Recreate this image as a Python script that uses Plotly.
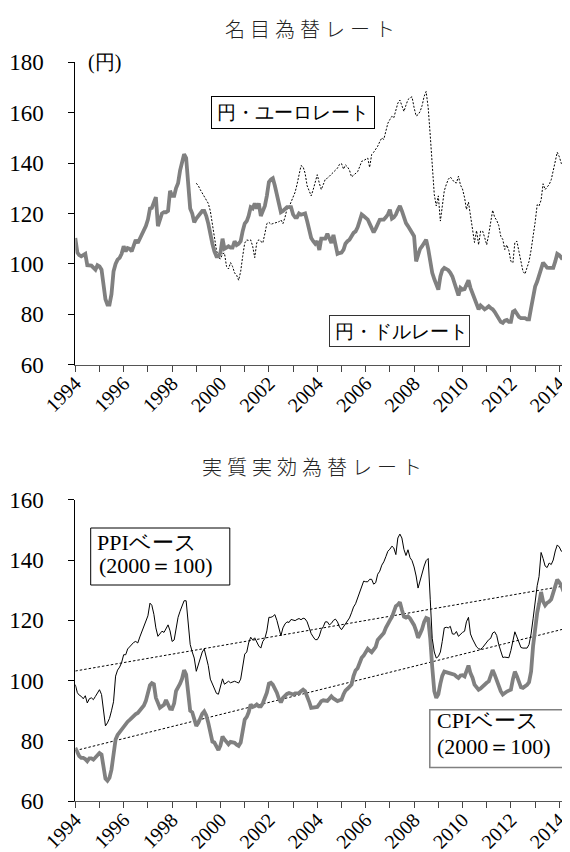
import plotly.graph_objects as go
import pandas as pd

# ---------------- data ----------------
months = pd.date_range("1994-01-01", "2014-10-01", freq="MS")
euro_months = pd.date_range("1999-01-01", "2014-10-01", freq="MS")

usd_jpy = [
    110.3, 104.5, 103.5, 103, 103.5, 104, 99.5, 99.3, 99.3, 98.5, 97.7, 99.5,      # 1994
    99, 97.7, 92, 86, 83.8, 83.8, 88, 97, 100, 101.7, 102.4, 104,                   # 1995
    107, 105, 106.3, 106, 105, 108, 109.5, 108.3, 110, 111, 113.5, 115,             # 1996
    117.6, 122, 122.2, 124, 126.5, 115, 117, 120, 120.5, 120.5, 121, 129,           # 1997
    127, 127, 130, 132, 137, 140.5, 143.5, 142, 133, 122, 120, 116.5,               # 1998
    118, 119, 120.5, 121, 121, 119, 116, 111.5, 108, 105, 103, 103,                 # 1999
    104.5, 110, 106, 106.5, 107, 106.5, 106.5, 109, 107.5, 108, 109, 113,           # 2000
    116, 117, 119, 122.5, 122, 124, 122, 124, 119, 121, 123, 127,                   # 2001
    132.5, 133.5, 134, 131, 127, 123, 120.5, 121, 122, 122.5, 122.5, 122.5,         # 2002
    119.6, 118.5, 118.5, 120, 119.5, 119.6, 120, 117, 113, 110.3, 109, 108,         # 2003
    109, 105.5, 110, 110, 110, 112, 110, 108.3, 111.5, 108, 104, 104.3,             # 2004
    104.5, 105.7, 108, 109, 109.6, 111, 112.3, 112.9, 114.5, 117, 119.6, 119,       # 2005
    118.2, 117.6, 116, 114.3, 112.5, 114, 116, 117.5, 117.6, 117.6, 118.5, 119.6,   # 2006
    121.5, 118, 118.5, 119.6, 121.5, 123, 121, 118, 116.2, 115, 113.5, 112.5,       # 2007
    111, 101, 103, 106, 107, 108.5, 109.6, 106, 101, 96.5, 94, 92,                  # 2008
    89.8, 95, 97.5, 98.4, 98, 97.5, 96.5, 95, 92.5, 90, 87.5, 90.5,                 # 2009
    89.8, 90, 91.8, 93.5, 90.5, 88.5, 86, 84.5, 82, 83.5, 82.5, 82,                 # 2010
    82.5, 83.2, 82.5, 82, 81, 79.5, 78, 77, 76.6, 77.5, 77.8, 77,                   # 2011
    77, 81, 81.5, 80, 79, 78.5, 78.5, 78.5, 78, 78, 82.5, 87,                       # 2012
    91, 93, 95.5, 97.5, 100.5, 99.5, 98.5, 98.4, 98.4, 98.4, 101, 104,              # 2013
    103.5, 102.4, 103, 103, 102.5, 101.7, 102.5, 103.7, 106, 110,                   # 2014
]

eur_jpy = [
    132, 131, 129.5, 128, 126.5, 125, 124, 121, 115.5, 110, 105.5, 102.5,           # 1999
    102, 104, 104.3, 99, 98, 100.5, 99, 96.4, 95.5, 93.5, 97, 103,                  # 2000
    108.3, 109.5, 109.3, 109.5, 107, 102.5, 108.3, 109.6, 109, 108.3, 112, 116,     # 2001
    116.5, 115.7, 116, 116.2, 116.2, 116.7, 117.5, 116, 118.5, 121.8, 122.6, 124.5, # 2002
    126, 128.5, 131.5, 135, 139, 138.5, 136, 131, 128.5, 127, 129.5, 132.5,         # 2003
    135.4, 132, 129.5, 131.5, 133.6, 134, 134.8, 135.4, 136.2, 137, 138, 139.5,     # 2004
    139.8, 137.6, 139.3, 138.5, 137.2, 134.5, 135.2, 136.1, 136.6, 138.5, 140.7, 141, # 2005
    141.6, 142, 138.3, 143.4, 144.3, 145.4, 146.7, 148.5, 150, 149.4, 152.5, 155.8, # 2006
    157.3, 158.6, 158, 160.5, 163.8, 165, 162.5, 160.5, 163, 165.2, 165.9, 166.3,   # 2007
    162, 158.7, 159.2, 160.5, 162.8, 166.5, 168.4, 162, 151, 138.5, 127.5, 123,     # 2008
    127, 117, 124, 129, 131.5, 133.6, 134.5, 133.2, 132.4, 132.1, 134.8, 131.3,     # 2009
    129.7, 126.3, 121.6, 124.5, 118.5, 112.7, 108.5, 113.2, 107.6, 113, 113, 110.5, # 2010
    107.6, 111.8, 116, 121.3, 118.5, 117.3, 115.3, 111, 109.7, 105.7, 107.5, 105.3, # 2011
    101, 100.5, 108.5, 109, 105, 100.4, 97.1, 96, 98.5, 101, 105.5, 110.5,          # 2012
    116.5, 123.5, 123, 125.3, 131.8, 129.5, 130.6, 131.5, 133.4, 137.5, 141, 144.3, # 2013
    142.5, 139.8, 140.8, 141.2, 139, 137.8, 137, 137.2, 138, 137.4,                 # 2014
]

reer_ppi = [
    98.7, 96, 95.2, 94.8, 94, 95, 92.6, 94, 94.3, 93.7, 94.8, 96,                   # 1994
    97, 95.4, 90, 85, 86, 87.5, 90, 93, 101.5, 103.5, 104.5, 106,                   # 1995
    108.6, 108.6, 110.5, 111.3, 111.9, 112.7, 113, 112.5, 114.5, 116.3, 117.5, 119.5, # 1996
    121.5, 125.7, 125, 122, 117.5, 114.7, 115.5, 116.4, 116, 117.5, 118.5, 116.5,   # 1997
    113, 113.5, 117, 121, 123, 124.6, 126.5, 126.5, 120, 112, 109.5, 107.5,         # 1998
    103.1, 105.5, 107.8, 109.5, 110.5, 108, 105, 100.5, 98.8, 97.5, 95.8, 95.5,     # 1999
    98, 100.6, 98.8, 99.2, 99.8, 99.3, 99.5, 99.8, 99.5, 99.2, 100.5, 105,          # 2000
    108.8, 109.5, 112.5, 114.4, 113.5, 114.2, 113, 111.5, 110.8, 113, 114, 116.5,   # 2001
    121, 121, 121.3, 121.9, 120, 117, 114.9, 117.5, 118.8, 119.5, 119.3, 120.3,     # 2002
    120, 119.9, 120.3, 120.6, 120.2, 120.7, 120.5, 119.5, 117.5, 115.6, 114.5, 113.6, # 2003
    113.6, 114.8, 116.9, 117.9, 119.5, 119.5, 118.5, 119, 120, 120.4, 119.5, 117.8, # 2004
    116.9, 118, 118.8, 119.8, 120.8, 122.5, 124.4, 125.5, 127.3, 128.9, 131, 133,   # 2005
    132.8, 132.8, 133.6, 133.6, 132, 132.5, 135.3, 136.3, 138.3, 139.4, 141.1, 142.9, # 2006
    143.6, 144.6, 144, 141.8, 147.3, 148.6, 147.3, 143.5, 141.5, 143.4, 140.8, 139.8, # 2007
    137.7, 134.7, 130.7, 133.5, 135.6, 138, 139.8, 140.5, 127, 114, 109.5, 107.5,   # 2008
    108, 109.5, 113, 117.5, 117.7, 117.5, 118, 115.5, 115.4, 116.3, 114.7, 115.5,   # 2009
    116, 116.4, 119.5, 121, 115.5, 113.8, 112.5, 111.2, 110.6, 110.4, 111, 111.9,   # 2010
    112.7, 113.6, 114, 115.8, 116.2, 115, 112, 109.8, 107.7, 107.8, 107.8, 107.6,   # 2011
    110, 113.4, 116.2, 114.5, 112.4, 111, 110.8, 110.8, 110.8, 112, 115.5, 120.5,   # 2012
    127, 131.5, 134.5, 142.5, 140.5, 138, 137.5, 139, 138.5, 140, 143, 145,         # 2013
    144.3, 142.9, 143.1, 143.3, 143, 143.1, 143.4, 145.5, 147.5, 149,               # 2014
]

reer_cpi = [
    77.7, 75.8, 75, 74.4, 74.4, 74, 73.3, 74.2, 74.2, 73.8, 74.5, 75.2,             # 1994
    76, 75.5, 71, 67.5, 66.8, 67.8, 70.5, 76.5, 80.5, 82, 83, 84,                   # 1995
    85, 85.8, 86.4, 87, 87.7, 88.4, 88.9, 89.3, 90.2, 91.1, 91.8, 93.3,             # 1996
    95.4, 98.5, 99.2, 98.8, 94.3, 92.3, 91, 91.5, 92, 93.6, 92, 90.7,               # 1997
    90.6, 92.5, 96.5, 97.5, 99, 100.7, 103.5, 102, 97, 90, 89.5, 87.5,              # 1998
    85, 86, 87.7, 89, 89.8, 88.5, 86, 82, 79.8, 79.5, 78, 77,                       # 1999
    78.5, 81.5, 80.5, 79.5, 78.9, 79.7, 79.7, 79.4, 78.8, 78.4, 79.5, 83.5,         # 2000
    87.1, 88, 89.5, 92.1, 91.3, 91.6, 92.1, 91.5, 91.5, 92.5, 94, 96,               # 2001
    99, 99.3, 98.7, 97.5, 96, 94, 92.8, 94.3, 95, 95.6, 95.9, 95.7,                 # 2002
    95.4, 95.8, 95.9, 95.9, 96.5, 97, 96.5, 95, 93, 91, 91, 91,                     # 2003
    91.3, 92.2, 93.2, 93.5, 93.5, 93.3, 94, 94.8, 94.1, 93.5, 93.2, 93.5,           # 2004
    93.7, 95.5, 96.7, 97.3, 98, 98.7, 101.5, 103.4, 104.1, 106, 107.6, 108.3,       # 2005
    109.5, 110.6, 110, 109.4, 110.3, 111.2, 113.5, 114.2, 114.9, 115.8, 117.5, 119.1, # 2006
    120, 121.1, 123.2, 124.7, 125.2, 126, 123.5, 121.2, 120.9, 121.3, 120.6, 119.7, # 2007
    118.4, 116.5, 114.2, 115.6, 117.1, 119.5, 120.8, 120.5, 114, 104.5, 96.5, 94.3, # 2008
    95.5, 99, 101.6, 103, 102.8, 102.4, 102.1, 102, 102, 101.4, 100.9, 101.7,       # 2009
    101.8, 101.4, 103.5, 105, 102.5, 101, 98.7, 97.9, 97, 97.4, 98.2, 98.7,         # 2010
    99.3, 99.8, 102, 103.5, 102, 100.2, 97.7, 96.5, 95.4, 96, 96.4, 96.7,           # 2011
    97, 100.5, 103, 101.5, 99.5, 97.8, 97.6, 98, 98.6, 99.5, 103, 111.5,            # 2012
    118.5, 122.5, 125.5, 129.4, 126.3, 125, 125.8, 126.2, 127, 129, 131.2, 133.5,   # 2013
    132.6, 131.5, 129.8, 129.3, 129, 129, 129.7, 130.7, 132, 134,                   # 2014
]

# trend lines (start / end values)
trend_dates = ["1994-01-01", "2014-10-10"]
trend_ppi = [103.2, 132.2]
trend_cpi = [76.8, 118.3]

year_ticks = [f"{y}-01-01" for y in range(1994, 2015)]
year_text = [str(y) if y % 2 == 0 else "" for y in range(1994, 2015)]

top_title = "名目為替レート"
bottom_title = "実質実効為替レート"

# ---------------- figure ----------------
W, H = 570, 852
GRAY = "#808080"
SERIF = "Liberation Serif, Times New Roman, serif"
JP = "Noto Sans CJK JP"


def px(x):
    return x / W


def py(y):
    return 1 - y / H


fig = go.Figure()

fig.add_trace(go.Scatter(x=euro_months, y=eur_jpy, mode="lines",
                         line=dict(color="black", width=1, dash="2px,1.6px"),
                         xaxis="x", yaxis="y", showlegend=False))
fig.add_trace(go.Scatter(x=months, y=usd_jpy, mode="lines",
                         line=dict(color=GRAY, width=3.8),
                         xaxis="x", yaxis="y", showlegend=False))

fig.add_trace(go.Scatter(x=trend_dates, y=trend_ppi, mode="lines",
                         line=dict(color="black", width=1, dash="2.5px,2px"),
                         xaxis="x2", yaxis="y2", showlegend=False))
fig.add_trace(go.Scatter(x=trend_dates, y=trend_cpi, mode="lines",
                         line=dict(color="black", width=1, dash="2.5px,2px"),
                         xaxis="x2", yaxis="y2", showlegend=False))
fig.add_trace(go.Scatter(x=months, y=reer_cpi, mode="lines",
                         line=dict(color=GRAY, width=3.8),
                         xaxis="x2", yaxis="y2", showlegend=False))
fig.add_trace(go.Scatter(x=months, y=reer_ppi, mode="lines",
                         line=dict(color="black", width=1),
                         xaxis="x2", yaxis="y2", showlegend=False))

x_left = 67.3
x_range = ["1994-01-01", "2014-10-10"]

xaxis_common = dict(
    type="date", range=x_range, domain=[px(x_left), 1.0],
    tickmode="array", tickvals=year_ticks, ticktext=year_text,
    tickangle=-45, ticks="outside", ticklen=6, tickwidth=1, tickcolor="#444",
    showline=True, linecolor="#555", linewidth=1.2,
    showgrid=False, zeroline=False,
    tickfont=dict(family=SERIF, size=20, color="black", weight="normal"),
    ticklabelstandoff=-8,
    automargin=False,
)
yaxis_common = dict(
    ticks="outside", ticklen=6, tickwidth=1, tickcolor="black",
    showline=True, linecolor="black", linewidth=1,
    showgrid=False, zeroline=False,
    tickfont=dict(family=SERIF, size=23, color="black", weight="normal"),
    ticklabelstandoff=20, automargin=False,
)

fig.update_layout(
    template="none",
    width=W, height=H, autosize=False,
    margin=dict(l=0, r=0, t=0, b=0),
    paper_bgcolor="white", plot_bgcolor="white",
    showlegend=False,
    font=dict(family=SERIF, color="black"),
    xaxis=dict(anchor="y", **xaxis_common),
    yaxis=dict(anchor="x", domain=[py(356.7), py(54.3)], range=[60, 180],
               tickvals=[60, 80, 100, 120, 140, 160, 180], **yaxis_common),
    xaxis2=dict(anchor="y2", **xaxis_common),
    yaxis2=dict(anchor="x2", domain=[py(793.3), py(491.7)], range=[60, 160],
                tickvals=[60, 80, 100, 120, 140, 160], **yaxis_common),
)

sp = "\u2005"
pad = "\u2005"
annotations = [
    dict(text=sp.join(top_title), x=px(302), y=py(20), font=dict(family=JP, size=20, color="#222", weight=300)),
    dict(text=sp.join(bottom_title), x=px(304), y=py(458), font=dict(family=JP, size=20, color="#222", weight=300)),
    dict(text="(円)", x=px(78), y=py(55), xanchor="left",
         font=dict(family=SERIF, size=20, color="black")),
    # boxed labels that clip their last character, as in the original
    dict(text=pad + "円・ユーロレート", x=px(202.5), y=py(104.5), xanchor="left", align="left",
         width=162, height=31, borderpad=0, borderwidth=1, bordercolor="black",
         font=dict(family=SERIF, size=19, color="black")),
    dict(text=pad + "円・ドルレート", x=px(320.7), y=py(322.5), xanchor="left", align="left",
         width=139, height=30, borderpad=0, borderwidth=1, bordercolor="#333",
         font=dict(family=SERIF, size=19, color="black")),
    dict(text="PPIベース", x=px(87), y=py(534), xanchor="left",
         font=dict(family=SERIF, size=22, color="black")),
    dict(text="(2000＝100)", x=px(89), y=py(557), xanchor="left",
         font=dict(family=SERIF, size=22, color="black")),
    dict(text="CPIベース", x=px(427), y=py(712), xanchor="left",
         font=dict(family=SERIF, size=22, color="black")),
    dict(text="(2000＝100)", x=px(427), y=py(738.5), xanchor="left",
         font=dict(family=SERIF, size=22, color="black")),
]
for a in annotations:
    a.setdefault("xanchor", "center")
    a.update(xref="paper", yref="paper", yanchor="middle", showarrow=False)
fig.update_layout(annotations=annotations)

boxes = [
    (82.7, 520, 221.8, 577, "black", 1),
    (421.8, 701.7, 563.5, 759.5, GRAY, 1.5),
]
fig.update_layout(shapes=[
    dict(type="rect", xref="paper", yref="paper",
         x0=px(x0), x1=px(x1), y0=py(y1), y1=py(y0),
         line=dict(color=c, width=w), fillcolor="rgba(0,0,0,0)", layer="above")
    for (x0, y0, x1, y1, c, w) in boxes
])

fig.write_html("out.html")
